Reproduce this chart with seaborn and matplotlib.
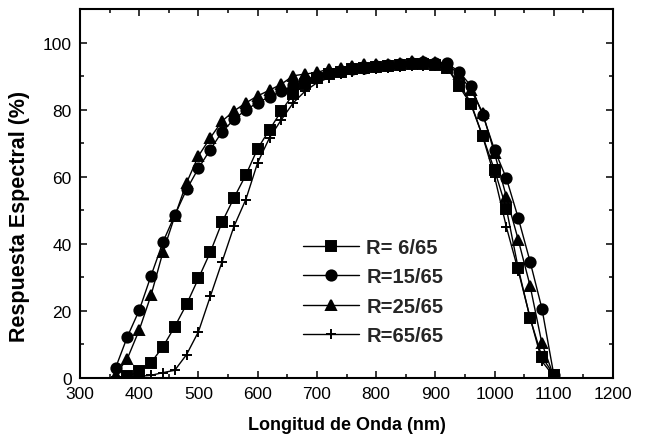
import numpy as np
import pandas as pd
import seaborn as sns
import matplotlib
matplotlib.use("Agg")
import matplotlib.pyplot as plt
from matplotlib import font_manager as fm
from matplotlib.ticker import MultipleLocator

# ---------------- data ----------------
wl_r6 = [380, 400, 420, 440, 460, 480, 500, 520, 540, 560, 580, 600, 620, 640, 660, 680,
         700, 720, 740, 760, 780, 800, 820, 840, 860, 880, 900, 920, 940, 960, 980, 1000,
         1020, 1040, 1060, 1080, 1100]
resp_r6 = [0.5, 2.0, 4.6, 9.3, 15.3, 22.0, 29.7, 37.5, 46.5, 53.7, 60.5, 68.4, 74.0, 79.6,
           84.6, 87.5, 89.5, 90.5, 91.3, 92.0, 92.5, 92.8, 93.0, 93.2, 93.5, 93.5, 93.3, 92.5,
           87.0, 81.6, 72.0, 62.0, 50.5, 32.7, 17.8, 6.3, 1.0]

wl_r15 = [360, 380, 400, 420, 440, 460, 480, 500, 520, 540, 560, 580, 600, 620, 640, 660,
          680, 700, 720, 740, 760, 780, 800, 820, 840, 860, 880, 900, 920, 940, 960, 980,
          1000, 1020, 1040, 1060, 1080, 1100]
resp_r15 = [3.0, 12.3, 20.2, 30.5, 40.5, 48.5, 56.2, 62.5, 68.1, 73.4, 77.1, 79.9, 82.1, 83.8,
            85.5, 87.3, 88.8, 90.0, 90.8, 91.5, 92.0, 92.5, 93.0, 93.2, 93.5, 94.0, 94.2, 94.0,
            93.8, 91.3, 87.1, 78.5, 68.0, 59.5, 47.7, 34.7, 20.7, 1.0]

wl_r25 = [360, 380, 400, 420, 440, 460, 480, 500, 520, 540, 560, 580, 600, 620, 640, 660,
          680, 700, 720, 740, 760, 780, 800, 820, 840, 860, 880, 900, 920, 940, 960, 980,
          1000, 1020, 1040, 1060, 1080, 1100]
resp_r25 = [1.0, 5.8, 14.3, 24.7, 37.5, 48.2, 58.2, 66.2, 71.6, 76.6, 79.6, 82.0, 84.1, 85.8,
            87.6, 90.1, 90.6, 91.1, 92.1, 92.3, 93.1, 93.6, 93.6, 93.6, 93.9, 94.6, 94.6, 94.3,
            93.5, 90.5, 86.0, 79.0, 67.0, 54.0, 41.2, 27.5, 10.3, 0.5]

wl_r65 = [360, 380, 400, 420, 440, 460, 480, 500, 520, 540, 560, 580, 600, 620, 640, 660,
          680, 700, 720, 740, 760, 780, 800, 820, 840, 860, 880, 900, 920, 940, 960, 980,
          1000, 1020, 1040, 1060, 1080, 1100]
resp_r65 = [0.2, 0.3, 0.5, 0.8, 1.6, 2.3, 7.0, 13.8, 24.3, 34.7, 45.2, 53.2, 64.2, 71.6,
            77.0, 82.0, 85.5, 88.0, 89.5, 90.5, 91.2, 91.8, 92.2, 92.5, 92.8, 93.0, 93.0, 93.0,
            92.2, 88.0, 82.0, 72.0, 60.0, 45.0, 32.0, 18.0, 5.0, 0.5]

series_labels = ["R= 6/65", "R=15/65", "R=25/65", "R=65/65"]
x_ticks = [300, 400, 500, 600, 700, 800, 900, 1000, 1100, 1200]
y_ticks = [0, 20, 40, 60, 80, 100]
x_label = "Longitud de Onda (nm)"
y_label = "Respuesta Espectral (%)"

# ---------------- style ----------------
sns.set_style("ticks")
plt.rcParams["font.family"] = ["Liberation Sans", "DejaVu Sans"]


def has_font(name):
    try:
        fm.findfont(fm.FontProperties(family=name), fallback_to_default=False)
        return True
    except Exception:
        return False


if has_font("Liberation Sans Narrow"):
    tick_family, tick_size = ["Liberation Sans Narrow", "Liberation Sans"], 14
else:
    tick_family, tick_size = ["Liberation Sans", "DejaVu Sans"], 12.5

fig = plt.figure(figsize=(6.51, 4.39), dpi=100)
ax = fig.add_axes([80 / 651, 1 - 379 / 439, 533 / 651, 369 / 439])

frames = []
for wl, rv, lab in [(wl_r6, resp_r6, series_labels[0]), (wl_r15, resp_r15, series_labels[1]),
                    (wl_r25, resp_r25, series_labels[2]), (wl_r65, resp_r65, series_labels[3])]:
    frames.append(pd.DataFrame({"wl": wl, "resp": rv, "serie": lab}))
df = pd.concat(frames, ignore_index=True)

markers = {"R= 6/65": "s", "R=15/65": "o", "R=25/65": "^", "R=65/65": "+"}
msizes = {"R= 6/65": 6.9, "R=15/65": 7.4, "R=25/65": 7.6, "R=65/65": 7.8}

for lab in series_labels:
    sub = df[df["serie"] == lab]
    sns.lineplot(data=sub, x="wl", y="resp", ax=ax, color="black", linewidth=1.0,
                 marker=markers[lab], markersize=msizes[lab], markeredgewidth=1.4,
                 markeredgecolor="black", markerfacecolor="black", label=lab,
                 sort=False, estimator=None)

ax.set_xlim(300, 1200)
ax.set_ylim(0, 110)
ax.set_xticks(x_ticks)
ax.set_yticks(y_ticks)
ax.xaxis.set_minor_locator(MultipleLocator(50))
ax.yaxis.set_minor_locator(MultipleLocator(10))
ax.tick_params(which="both", direction="in", top=True, right=True, width=1.1, color="black")
ax.tick_params(which="major", length=5)
ax.tick_params(which="minor", length=2.7)
ax.tick_params(axis="x", which="major", pad=5.5)
ax.tick_params(axis="y", which="major", pad=6)
for t in ax.get_xticklabels() + ax.get_yticklabels():
    t.set_family(tick_family)
    t.set_fontsize(tick_size)
    t.set_color("black")
for sp in ax.spines.values():
    sp.set_linewidth(1.5)
    sp.set_color("black")
    sp.set_visible(True)

ax.set_xlabel(x_label, fontsize=13, fontweight="bold", color="black")
ax.set_ylabel(y_label, fontsize=15.5, fontweight="bold", color="black")
ax.xaxis.set_label_coords(0.5, (379 - 417) / 369)
ax.yaxis.set_label_coords((30 - 80) / 533, (379 - 216) / 369)

leg = ax.legend(loc="center left", bbox_to_anchor=((303 - 80) / 533, (379 - 292.5) / 369),
                frameon=False, handlelength=2.8, handletextpad=0.35, labelspacing=0.52,
                borderpad=0, borderaxespad=0, prop={"size": 14.5, "weight": "bold"})

fig.savefig("out.png", dpi=100, facecolor="white")
